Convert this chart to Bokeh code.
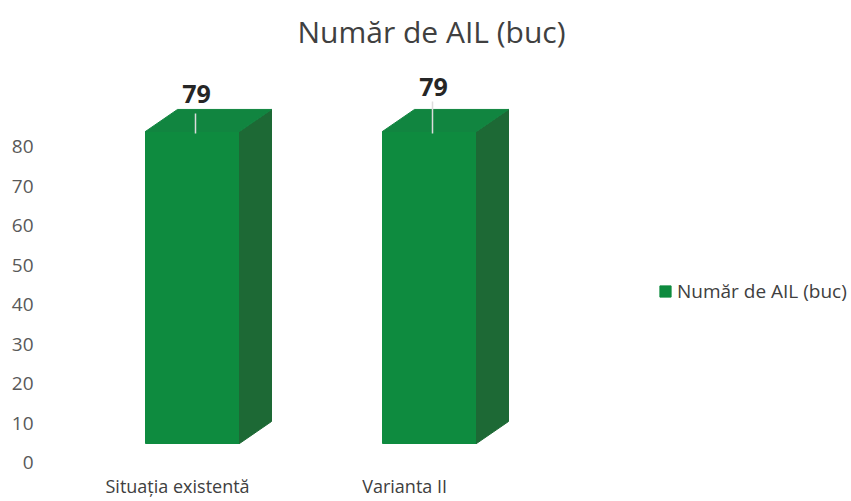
from bokeh.plotting import figure
from bokeh.models import FixedTicker, Label, Legend, LegendItem, ColumnDataSource
from bokeh.embed import file_html
from bokeh.resources import INLINE
from bokeh.core.properties import value

# ---------------- data ----------------
categories = ["Situația existentă", "Varianta II"]
values = [79, 79]
y_ticks = [0, 10, 20, 30, 40, 50, 60, 70, 80]
series_name = "Număr de AIL (buc)"
title_text = "Număr de AIL (buc)"

# ---------------- style ----------------
FONT = "Open Sans"
W, H = 851, 501
BORDER_L, BORDER_B = 43, 38
PX_X = 237.0          # pixels per category step
PX_Y = 3.95           # pixels per value unit
HALF_W = 47 / PX_X    # half width of the front face
DEPTH_X = 32 / PX_X   # 3D depth offset (x)
DEPTH_Y = 22 / PX_Y   # 3D depth offset (y)
BASE = 19 / PX_Y      # front face floor above the label zero
label_shift = [-0.063, -0.105]   # perspective shift of category labels
value_lift = [37, 44]            # px of value label above bar top
leader_len = [18, 30]            # px of leader line
C_FRONT, C_SIDE, C_TOP = "#0e8b3f", "#1d6935", "#118540"

frame_w = W - BORDER_L
frame_h = H - BORDER_B
x_start = -(192 - BORDER_L) / PX_X
x_end = x_start + frame_w / PX_X
y_end = 462 / PX_Y
y_start = y_end - frame_h / PX_Y

p = figure(width=W, height=H, output_backend="svg", toolbar_location=None,
           x_range=(x_start, x_end), y_range=(y_start, y_end),
           min_border_left=BORDER_L, min_border_bottom=BORDER_B,
           min_border_top=0, min_border_right=0)
p.outline_line_color = None
p.xgrid.visible = False
p.ygrid.visible = False
p.background_fill_color = "white"

xs = list(range(len(categories)))

# front faces
front = ColumnDataSource(dict(
    left=[x - HALF_W for x in xs], right=[x + HALF_W for x in xs],
    bottom=[BASE] * len(xs), top=[BASE + v for v in values]))
r_front = p.quad(left="left", right="right", bottom="bottom", top="top",
                 source=front, fill_color=C_FRONT, line_color=C_FRONT)

# side and top faces
side_xs, side_ys, top_xs, top_ys = [], [], [], []
for x, v in zip(xs, values):
    r = x + HALF_W
    l = x - HALF_W
    side_xs.append([r, r + DEPTH_X, r + DEPTH_X, r])
    side_ys.append([BASE, BASE + DEPTH_Y, BASE + v + DEPTH_Y, BASE + v])
    top_xs.append([l, l + DEPTH_X, r + DEPTH_X, r])
    top_ys.append([BASE + v, BASE + v + DEPTH_Y, BASE + v + DEPTH_Y, BASE + v])
p.patches(side_xs, side_ys, fill_color=C_SIDE, line_color=C_SIDE)
p.patches(top_xs, top_ys, fill_color=C_TOP, line_color=C_TOP)

# leader lines
lx = [x + 3 / PX_X for x in xs]
p.segment(x0=lx, y0=[BASE + v - 2 / PX_Y for v in values],
          x1=lx, y1=[BASE + v + L / PX_Y for v, L in zip(values, leader_len)],
          line_color="#dcdcdc", line_width=1.5)

# value labels
for x, v, lift in zip(xs, values, value_lift):
    p.text(x=[x + 4 / PX_X], y=[BASE + v], text=[str(v)], y_offset=-lift,
           text_font=value(FONT), text_font_style="bold", text_font_size="25px",
           text_color="#262626", text_align="center", text_baseline="middle")

# axes
p.yaxis.ticker = FixedTicker(ticks=y_ticks)
p.yaxis.axis_line_color = None
p.yaxis.major_tick_line_color = None
p.yaxis.minor_tick_line_color = None
p.yaxis.major_tick_out = 0
p.yaxis.major_tick_in = 0
p.yaxis.major_label_standoff = 10
p.yaxis.major_label_text_font = FONT
p.yaxis.major_label_text_font_size = "19px"
p.yaxis.major_label_text_color = "#595959"

tick_pos = [x + s for x, s in zip(xs, label_shift)]
p.xaxis.ticker = FixedTicker(ticks=tick_pos)
p.xaxis.major_label_overrides = {t: c for t, c in zip(tick_pos, categories)}
p.xaxis.axis_line_color = None
p.xaxis.major_tick_line_color = None
p.xaxis.minor_tick_line_color = None
p.xaxis.major_tick_out = 0
p.xaxis.major_tick_in = 0
p.xaxis.major_label_standoff = 10
p.xaxis.major_label_text_font = FONT
p.xaxis.major_label_text_font_size = "18px"
p.xaxis.major_label_text_color = "#404040"

# title
p.add_layout(Label(x=431 - BORDER_L, y=frame_h - 31, x_units="screen", y_units="screen",
                   text=title_text, text_font=FONT, text_font_size="30px",
                   text_color="#404040", text_align="center", text_baseline="alphabetic"))

# legend
legend = Legend(items=[LegendItem(label=series_name, renderers=[r_front])],
                location=(658 - BORDER_L, frame_h - 304),
                glyph_width=14, glyph_height=14, label_standoff=5,
                padding=0, margin=0, border_line_color=None,
                background_fill_alpha=0,
                label_text_font=FONT, label_text_font_size="19px",
                label_text_color="#404040")
p.add_layout(legend)

open("out.html", "w").write(file_html(p, INLINE))
